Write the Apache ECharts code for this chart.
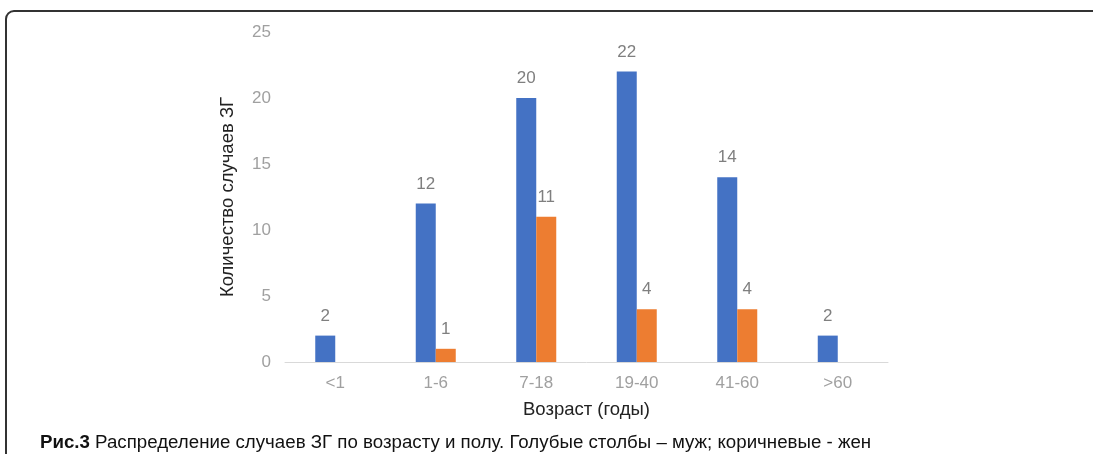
<!DOCTYPE html>
<html>
<head>
<meta charset="utf-8">
<script src="https://cdn.jsdelivr.net/npm/echarts@6/dist/echarts.min.js"></script>
<style>
  html, body { margin: 0; padding: 0; background: #fff; overflow: hidden; }
  #frame {
    position: absolute; left: 5px; top: 10px; width: 1200px; height: 600px;
    border: 2px solid #333; border-radius: 9px; box-sizing: border-box;
  }
  #chart { position: absolute; left: 0; top: 0; width: 1093px; height: 454px; }
</style>
</head>
<body>
<div id="frame"></div>
<div id="chart"></div>
<script>
// Age groups and case counts by sex
const ageGroups = ['<1', '1-6', '7-18', '19-40', '41-60', '>60'];
const maleCases = [2, 12, 20, 22, 14, 2];
const femaleCases = [null, 1, 11, 4, 4, null];
const yTicks = { min: 0, max: 25, interval: 5 };

const chart = echarts.init(document.getElementById('chart'), null, { renderer: 'canvas' });
const font = '"Liberation Sans", Arial, sans-serif';

const barLabel = {
  show: true, position: 'top', distance: 11,
  color: '#7f7f7f', fontSize: 17, fontFamily: font
};

chart.setOption({
  animation: false,
  textStyle: { fontFamily: font },
  title: {
    left: 35, top: 428,
    text: '{b|Рис.3} Распределение случаев ЗГ по возрасту и полу. Голубые столбы – муж; коричневые - жен',
    textStyle: {
      fontSize: 18.7, fontWeight: 'normal', color: '#111', fontFamily: font,
      rich: { b: { fontSize: 18.7, fontWeight: 'bold', color: '#111', fontFamily: font } }
    }
  },
  grid: { left: 285, right: 205, top: 32, bottom: 92 },
  xAxis: {
    type: 'category',
    data: ageGroups,
    name: 'Возраст (годы)',
    nameLocation: 'middle',
    nameGap: 38,
    nameTextStyle: { fontSize: 18.5, color: '#222', fontFamily: font },
    axisLine: { lineStyle: { color: '#d9d9d9', width: 1 } },
    axisTick: { show: false },
    axisLabel: { color: '#a0a0a0', fontSize: 17, margin: 13, fontFamily: font }
  },
  yAxis: {
    type: 'value',
    min: yTicks.min, max: yTicks.max, interval: yTicks.interval,
    name: 'Количество случаев ЗГ',
    nameLocation: 'middle',
    nameGap: 48,
    nameTextStyle: { fontSize: 18.5, color: '#222', fontFamily: font },
    axisLine: { show: false },
    axisTick: { show: false },
    splitLine: { show: false },
    axisLabel: { color: '#a0a0a0', fontSize: 17, margin: 14, fontFamily: font }
  },
  series: [
    {
      name: 'муж', type: 'bar', data: maleCases,
      barWidth: 20, barGap: '0%',
      itemStyle: { color: '#4472C4' },
      label: barLabel
    },
    {
      name: 'жен', type: 'bar', data: femaleCases,
      barWidth: 20, barGap: '0%',
      itemStyle: { color: '#ED7D31' },
      label: barLabel
    }
  ]
});
</script>
</body>
</html>
